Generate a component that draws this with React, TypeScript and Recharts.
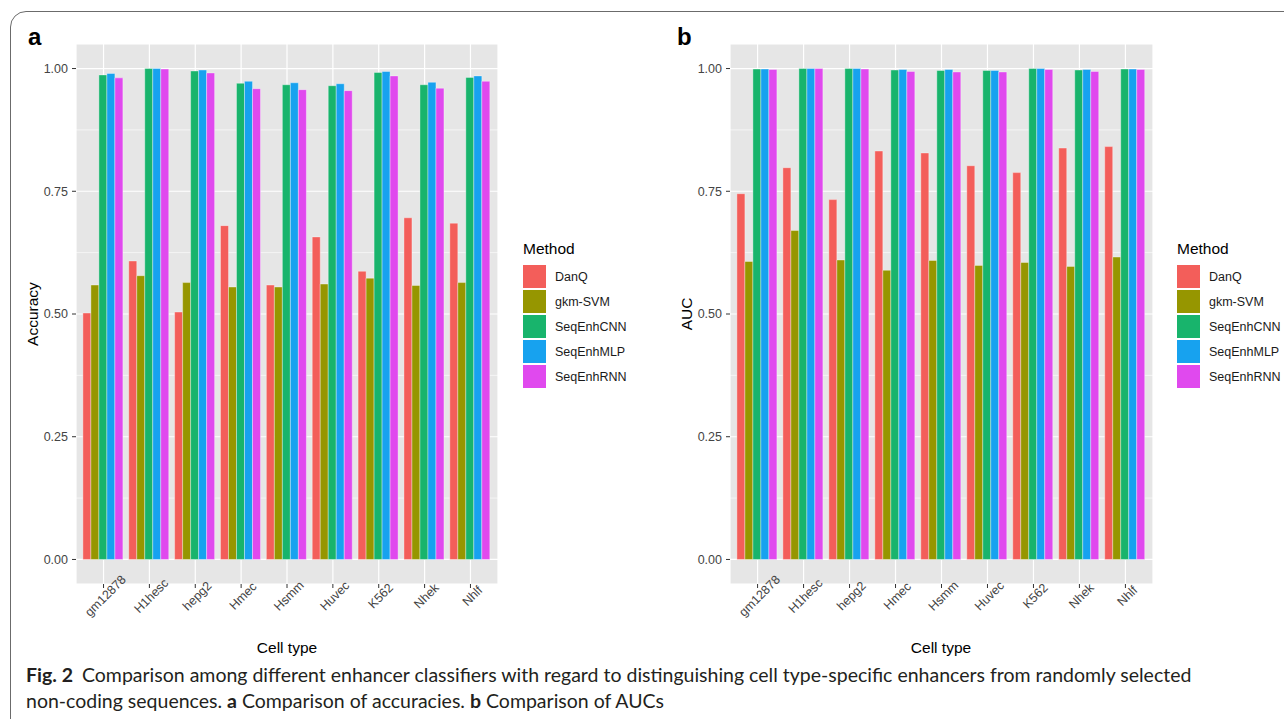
import { BarChart, Bar, XAxis, YAxis, CartesianGrid } from 'recharts';

const cellTypes = ['gm12878', 'H1hesc', 'hepg2', 'Hmec', 'Hsmm', 'Huvec', 'K562', 'Nhek', 'Nhlf'];
const methods = ['DanQ', 'gkm-SVM', 'SeqEnhCNN', 'SeqEnhMLP', 'SeqEnhRNN'];
const colors = ['#F35E5A', '#969600', '#18B46C', '#17A2EF', '#E049EE'];

// panel a: accuracy
const accDanQ = [0.502, 0.608, 0.504, 0.68, 0.559, 0.657, 0.587, 0.696, 0.685];
const accGkm = [0.559, 0.578, 0.564, 0.555, 0.555, 0.561, 0.573, 0.558, 0.564];
const accCNN = [0.987, 1.0, 0.995, 0.97, 0.967, 0.965, 0.992, 0.967, 0.982];
const accMLP = [0.99, 1.0, 0.997, 0.974, 0.971, 0.969, 0.994, 0.972, 0.985];
const accRNN = [0.981, 0.999, 0.991, 0.959, 0.957, 0.955, 0.985, 0.96, 0.974];

// panel b: AUC
const aucDanQ = [0.745, 0.798, 0.733, 0.832, 0.828, 0.802, 0.788, 0.838, 0.841];
const aucGkm = [0.607, 0.67, 0.61, 0.589, 0.609, 0.599, 0.605, 0.597, 0.616];
const aucCNN = [0.999, 1.0, 1.0, 0.997, 0.996, 0.996, 1.0, 0.997, 0.999];
const aucMLP = [0.999, 1.0, 1.0, 0.998, 0.998, 0.996, 1.0, 0.998, 0.999];
const aucRNN = [0.998, 1.0, 0.999, 0.994, 0.993, 0.993, 0.998, 0.994, 0.998];

const yTicks = [0, 0.25, 0.5, 0.75, 1];
const yMinor = [0.125, 0.375, 0.625, 0.875];
const yDomain = [-0.05, 1.05];

const FONT = '"Liberation Sans", Arial, Helvetica, sans-serif';

const buildRows = (series: number[][]) =>
  cellTypes.map((cell, i) => {
    const row: Record<string, string | number> = { cell };
    methods.forEach((m, j) => (row[m] = series[j][i]));
    return row;
  });

const accData = buildRows([accDanQ, accGkm, accCNN, accMLP, accRNN]);
const aucData = buildRows([aucDanQ, aucGkm, aucCNN, aucMLP, aucRNN]);

const XTick = (props: any) => {
  const { x, y, payload } = props;
  const ax = x + 2;
  const ay = y + 6;
  return (
    <text
      x={ax}
      y={ay}
      textAnchor="middle"
      dominantBaseline="central"
      fontSize={12.5}
      fontFamily={FONT}
      fill="#444444"
      transform={`rotate(-45, ${ax}, ${ay})`}
    >
      {payload.value}
    </text>
  );
};

// minor gridlines, placed with the axis scale when it is exposed
const minorLines = (p: any) => {
  const scale = p && p.yAxis && p.yAxis.scale;
  if (typeof scale === 'function') return yMinor.map((v) => scale(v));
  if (scale && typeof scale.map === 'function') return yMinor.map((v) => scale.map(v));
  const off = p.offset;
  return yMinor.map((v) => off.top + ((yDomain[1] - v) / (yDomain[1] - yDomain[0])) * off.height);
};

const Panel = ({ data, yWidth, width }: { data: any[]; yWidth: number; width: number }) => (
  <BarChart
    width={width}
    height={700}
    data={data}
    margin={{ top: 44, right: 12, left: 0, bottom: 0 }}
    barGap={0}
    barCategoryGap="5%"
  >
    <CartesianGrid
      fill="#E6E6E6"
      stroke="#ffffff"
      strokeWidth={0.6}
      vertical={false}
      horizontalCoordinatesGenerator={minorLines}
    />
    <CartesianGrid stroke="#ffffff" strokeWidth={1.2} />
    <XAxis
      dataKey="cell"
      interval={0}
      axisLine={false}
      tickLine={{ stroke: '#333333' }}
      tickSize={4}
      tickMargin={2}
      height={116}
      padding={{ left: 4.6, right: 4.6 }}
      tick={<XTick />}
    />
    <YAxis
      width={yWidth}
      domain={yDomain}
      ticks={yTicks}
      allowDataOverflow
      axisLine={false}
      tickLine={{ stroke: '#333333' }}
      tickSize={4}
      tickMargin={4}
      tickFormatter={(v: number) => v.toFixed(2)}
      tick={{ fill: '#444444', fontSize: 12.5, fontFamily: FONT }}
    />
    {methods.map((m, i) => (
      <Bar
        key={m}
        dataKey={m}
        fill={colors[i]}
        stroke="#ffffff"
        strokeOpacity={0.45}
        strokeWidth={0.8}
        isAnimationActive={false}
      />
    ))}
  </BarChart>
);

const Legend = ({ left }: { left: number }) => (
  <div style={{ position: 'absolute', left, top: 240, fontFamily: FONT }}>
    <div style={{ fontSize: 15.5, color: '#000', height: 24, lineHeight: '18px' }}>Method</div>
    {methods.map((m, i) => (
      <div key={m} style={{ display: 'flex', alignItems: 'center', height: 25 }}>
        <div style={{ width: 23, height: 23, background: colors[i], outline: '1px solid rgba(255,255,255,0.5)' }} />
        <div style={{ marginLeft: 9, fontSize: 12.5, color: '#1a1a1a' }}>{m}</div>
      </div>
    ))}
  </div>
);

const AxisTitleY = ({ text, x }: { text: string; x: number }) => (
  <div
    style={{
      position: 'absolute',
      left: x,
      top: 314,
      transform: 'translate(-50%, -50%) rotate(-90deg)',
      fontFamily: FONT,
      fontSize: 15.5,
      color: '#000',
      whiteSpace: 'nowrap',
    }}
  >
    {text}
  </div>
);

const AxisTitleX = ({ text, x }: { text: string; x: number }) => (
  <div
    style={{
      position: 'absolute',
      left: x,
      top: 648,
      transform: 'translate(-50%, -50%)',
      fontFamily: FONT,
      fontSize: 15.5,
      color: '#000',
      whiteSpace: 'nowrap',
    }}
  >
    {text}
  </div>
);

const PanelTag = ({ text, x }: { text: string; x: number }) => (
  <div
    style={{
      position: 'absolute',
      left: x,
      top: 23,
      fontFamily: FONT,
      fontWeight: 'bold',
      fontSize: 24,
      lineHeight: '28px',
      color: '#000',
    }}
  >
    {text}
  </div>
);

export default function App() {
  return (
    <div
      style={{
        position: 'absolute',
        left: 0,
        top: 0,
        width: 1284,
        height: 719,
        overflow: 'hidden',
        background: '#ffffff',
      }}
    >
      <div
        style={{
          position: 'absolute',
          left: 10,
          top: 11,
          width: 1320,
          height: 760,
          border: '1.5px solid #6b6b6b',
          borderRadius: 16,
        }}
      />
      <div style={{ position: 'absolute', left: 0, top: 0 }}>
        <Panel data={accData} yWidth={76} width={510} />
      </div>
      <div style={{ position: 'absolute', left: 650, top: 0 }}>
        <Panel data={aucData} yWidth={80} width={515} />
      </div>
      <PanelTag text="a" x={28} />
      <PanelTag text="b" x={677} />
      <AxisTitleY text="Accuracy" x={33} />
      <AxisTitleY text="AUC" x={687} />
      <AxisTitleX text="Cell type" x={287} />
      <AxisTitleX text="Cell type" x={941} />
      <Legend left={523} />
      <Legend left={1177} />
      <div
        style={{
          position: 'absolute',
          left: 26,
          top: 662,
          fontFamily: '"Lato", "Open Sans", sans-serif',
          fontSize: 19.5,
          lineHeight: '26px',
          color: '#231f20',
          whiteSpace: 'nowrap',
        }}
      >
        <div>
          <b style={{ marginRight: 9 }}>Fig. 2</b>
          Comparison among different enhancer classifiers with regard to distinguishing cell type-specific enhancers from randomly selected
        </div>
        <div>
          non-coding sequences. <b>a</b> Comparison of accuracies. <b>b</b> Comparison of AUCs
        </div>
      </div>
    </div>
  );
}
